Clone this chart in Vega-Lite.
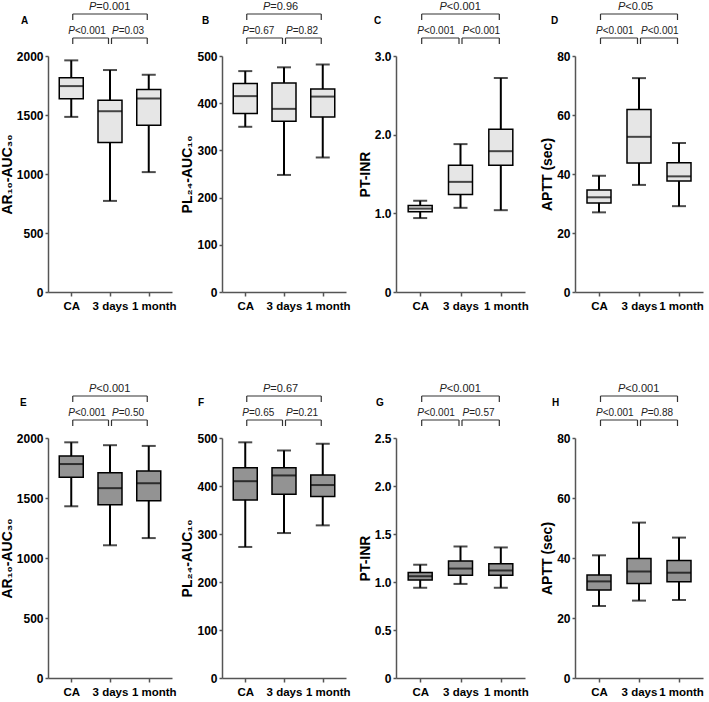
{
  "$schema": "https://vega.github.io/schema/vega-lite/v6.json",
  "padding": 0,
  "config": {
    "view": {"stroke": null},
    "font": "Liberation Sans",
    "title": {"font": "Liberation Sans", "fontSize": 10, "fontWeight": "bold", "color": "black"},
    "axis": {"grid": false, "domainColor": "#555", "domainWidth": 1.5, "tickColor": "#555", "tickWidth": 1.5, "labelFont": "Liberation Sans", "labelFontWeight": "bold", "labelFontSize": 12, "labelColor": "black", "titleFont": "Liberation Sans", "titleFontWeight": "bold", "titleFontSize": 14, "titleColor": "black", "labelOverlap": false, "labelBound": false, "labelFlush": false},
    "axisY": {"tickSize": 3, "labelPadding": 2, "titlePadding": 2},
    "axisX": {"tickSize": 4, "labelPadding": 4, "labelAngle": 0, "labelFontSize": 11.5}
  },
  "datasets": {
    "boxes": [
      {"panel": "A", "group": "CA", "min": 1484, "q1": 1637, "median": 1745, "q3": 1816, "max": 1963},
      {"panel": "A", "group": "3 days", "min": 772, "q1": 1268, "median": 1532, "q3": 1626, "max": 1881},
      {"panel": "A", "group": "1 month", "min": 1016, "q1": 1413, "median": 1640, "q3": 1716, "max": 1841},
      {"panel": "B", "group": "CA", "min": 350, "q1": 378, "median": 415, "q3": 442, "max": 468},
      {"panel": "B", "group": "3 days", "min": 248, "q1": 362, "median": 388, "q3": 443, "max": 476},
      {"panel": "B", "group": "1 month", "min": 285, "q1": 371, "median": 414, "q3": 430, "max": 482},
      {"panel": "C", "group": "CA", "min": 0.94, "q1": 1.02, "median": 1.06, "q3": 1.10, "max": 1.16},
      {"panel": "C", "group": "3 days", "min": 1.07, "q1": 1.24, "median": 1.40, "q3": 1.61, "max": 1.88},
      {"panel": "C", "group": "1 month", "min": 1.04, "q1": 1.61, "median": 1.79, "q3": 2.07, "max": 2.72},
      {"panel": "D", "group": "CA", "min": 27, "q1": 30.2, "median": 32.1, "q3": 34.6, "max": 39.4},
      {"panel": "D", "group": "3 days", "min": 36.3, "q1": 43.7, "median": 52.6, "q3": 61.9, "max": 72.5},
      {"panel": "D", "group": "1 month", "min": 29.1, "q1": 37.6, "median": 39.2, "q3": 43.8, "max": 50.5},
      {"panel": "E", "group": "CA", "min": 1431, "q1": 1673, "median": 1783, "q3": 1849, "max": 1964},
      {"panel": "E", "group": "3 days", "min": 1106, "q1": 1444, "median": 1582, "q3": 1711, "max": 1940},
      {"panel": "E", "group": "1 month", "min": 1166, "q1": 1477, "median": 1623, "q3": 1725, "max": 1934},
      {"panel": "F", "group": "CA", "min": 273, "q1": 371, "median": 410, "q3": 438, "max": 491},
      {"panel": "F", "group": "3 days", "min": 302, "q1": 383, "median": 422, "q3": 438, "max": 474},
      {"panel": "F", "group": "1 month", "min": 318, "q1": 378, "median": 402, "q3": 423, "max": 488},
      {"panel": "G", "group": "CA", "min": 0.94, "q1": 1.02, "median": 1.06, "q3": 1.10, "max": 1.18},
      {"panel": "G", "group": "3 days", "min": 0.98, "q1": 1.07, "median": 1.14, "q3": 1.22, "max": 1.37},
      {"panel": "G", "group": "1 month", "min": 0.94, "q1": 1.07, "median": 1.12, "q3": 1.19, "max": 1.36},
      {"panel": "H", "group": "CA", "min": 24, "q1": 29.3, "median": 32.2, "q3": 34.3, "max": 40.9},
      {"panel": "H", "group": "3 days", "min": 25.8, "q1": 31.5, "median": 35.5, "q3": 39.8, "max": 51.8},
      {"panel": "H", "group": "1 month", "min": 26, "q1": 32.1, "median": 35.1, "q3": 39.2, "max": 46.8}
    ],
    "brackets": [
      {"panel": "A", "from": "CA", "to": "1 month", "level": 2, "label": "=0.001"},
      {"panel": "A", "from": "CA", "to": "3 days", "level": 1, "label": "<0.001"},
      {"panel": "A", "from": "3 days", "to": "1 month", "level": 1, "label": "=0.03"},
      {"panel": "B", "from": "CA", "to": "1 month", "level": 2, "label": "=0.96"},
      {"panel": "B", "from": "CA", "to": "3 days", "level": 1, "label": "=0.67"},
      {"panel": "B", "from": "3 days", "to": "1 month", "level": 1, "label": "=0.82"},
      {"panel": "C", "from": "CA", "to": "1 month", "level": 2, "label": "<0.001"},
      {"panel": "C", "from": "CA", "to": "3 days", "level": 1, "label": "<0.001"},
      {"panel": "C", "from": "3 days", "to": "1 month", "level": 1, "label": "<0.001"},
      {"panel": "D", "from": "CA", "to": "1 month", "level": 2, "label": "<0.05"},
      {"panel": "D", "from": "CA", "to": "3 days", "level": 1, "label": "<0.001"},
      {"panel": "D", "from": "3 days", "to": "1 month", "level": 1, "label": "<0.001"},
      {"panel": "E", "from": "CA", "to": "1 month", "level": 2, "label": "<0.001"},
      {"panel": "E", "from": "CA", "to": "3 days", "level": 1, "label": "<0.001"},
      {"panel": "E", "from": "3 days", "to": "1 month", "level": 1, "label": "=0.50"},
      {"panel": "F", "from": "CA", "to": "1 month", "level": 2, "label": "=0.67"},
      {"panel": "F", "from": "CA", "to": "3 days", "level": 1, "label": "=0.65"},
      {"panel": "F", "from": "3 days", "to": "1 month", "level": 1, "label": "=0.21"},
      {"panel": "G", "from": "CA", "to": "1 month", "level": 2, "label": "<0.001"},
      {"panel": "G", "from": "CA", "to": "3 days", "level": 1, "label": "<0.001"},
      {"panel": "G", "from": "3 days", "to": "1 month", "level": 1, "label": "=0.57"},
      {"panel": "H", "from": "CA", "to": "1 month", "level": 2, "label": "<0.001"},
      {"panel": "H", "from": "CA", "to": "3 days", "level": 1, "label": "<0.001"},
      {"panel": "H", "from": "3 days", "to": "1 month", "level": 1, "label": "=0.88"}
    ]
  },
  "columns": 4,
  "align": "each",
  "bounds": "flush",
  "spacing": {"row": 146, "column": 50},
  "concat": [
    {
      "width": 124, "height": 236,
      "title": {"text": "A", "anchor": "start", "frame": "group", "dx": -27, "dy": 29},
      "resolve": {"scale": {"y": "independent"}},
      "layer": [
        {
          "data": {"name": "boxes"},
          "transform": [{"filter": "datum.panel === 'A'"}],
          "encoding": {"x": {"field": "group", "type": "nominal", "title": null, "scale": {"type": "point", "domain": ["CA", "3 days", "1 month"], "padding": 0.6}, "axis": {"labelOffset": {"condition": {"test": "datum.value === '1 month'", "value": 5}, "value": 0}}}},
          "layer": [
            {"mark": {"type": "rule", "color": "black", "strokeWidth": 2}, "encoding": {"y": {"field": "min", "type": "quantitative", "scale": {"domain": [0, 2000], "nice": false}, "axis": {"title": "AR₁₀-AUC₃₀", "values": [0, 500, 1000, 1500, 2000], "format": "d"}}, "y2": {"field": "max"}}},
            {"mark": {"type": "bar", "size": 24, "fill": "#e6e6e6", "stroke": "black", "strokeWidth": 1.5}, "encoding": {"y": {"field": "q1", "type": "quantitative"}, "y2": {"field": "q3"}}},
            {"mark": {"type": "tick", "size": 24, "thickness": 2, "color": "black"}, "encoding": {"y": {"field": "median", "type": "quantitative"}}},
            {"mark": {"type": "tick", "size": 14, "thickness": 2, "color": "black"}, "encoding": {"y": {"field": "min", "type": "quantitative"}}},
            {"mark": {"type": "tick", "size": 14, "thickness": 2, "color": "black"}, "encoding": {"y": {"field": "max", "type": "quantitative"}}}
          ]
        },
        {
          "data": {"name": "brackets"},
          "transform": [{"filter": "datum.panel === 'A'"}],
          "encoding": {
            "x": {"field": "from", "type": "nominal", "title": null, "scale": {"type": "point", "domain": ["CA", "3 days", "1 month"], "padding": 0.6}},
            "y": {"field": "level", "type": "quantitative", "scale": {"domain": [-9.583, 0.25], "nice": false, "zero": false}, "axis": null}
          },
          "layer": [
            {"mark": {"type": "rule", "color": "#333", "strokeWidth": 1.2, "xOffset": 1.5, "x2Offset": -1.5}, "encoding": {"x2": {"field": "to"}}},
            {"mark": {"type": "rule", "color": "#333", "strokeWidth": 1.2, "xOffset": 1.5, "y2Offset": 6}, "encoding": {"y2": {"field": "level"}}},
            {"mark": {"type": "rule", "color": "#333", "strokeWidth": 1.2, "xOffset": -1.5, "y2Offset": 6}, "encoding": {"x": {"field": "to", "type": "nominal", "title": null}, "y2": {"field": "level"}}},
            {"transform": [{"filter": "datum.level === 1 && datum.from === 'CA'"}], "mark": {"type": "text", "align": "left", "baseline": "bottom", "dy": -2, "dx": -3, "fontSize": 10, "fontStyle": "italic", "color": "#222"}, "encoding": {"text": {"value": "P"}}},
            {"transform": [{"filter": "datum.level === 1 && datum.from === 'CA'"}], "mark": {"type": "text", "align": "left", "baseline": "bottom", "dy": -2, "dx": 3.7, "fontSize": 10, "color": "#222"}, "encoding": {"text": {"field": "label"}}},
            {"transform": [{"filter": "datum.level === 1 && datum.from === '3 days'"}], "mark": {"type": "text", "align": "left", "baseline": "bottom", "dy": -2, "dx": 2, "fontSize": 10, "fontStyle": "italic", "color": "#222"}, "encoding": {"text": {"value": "P"}}},
            {"transform": [{"filter": "datum.level === 1 && datum.from === '3 days'"}], "mark": {"type": "text", "align": "left", "baseline": "bottom", "dy": -2, "dx": 8.7, "fontSize": 10, "color": "#222"}, "encoding": {"text": {"field": "label"}}},
            {"transform": [{"filter": "datum.level === 2"}], "mark": {"type": "text", "align": "left", "baseline": "bottom", "dy": -2, "dx": -21, "fontSize": 11, "fontStyle": "italic", "color": "#222"}, "encoding": {"x": {"datum": "3 days"}, "text": {"value": "P"}}},
            {"transform": [{"filter": "datum.level === 2"}], "mark": {"type": "text", "align": "left", "baseline": "bottom", "dy": -2, "dx": -13.7, "fontSize": 11, "color": "#222"}, "encoding": {"x": {"datum": "3 days"}, "text": {"field": "label"}}}
          ]
        }
      ]
    },
    {
      "width": 124, "height": 236,
      "title": {"text": "B", "anchor": "start", "frame": "group", "dx": -20, "dy": 29},
      "resolve": {"scale": {"y": "independent"}},
      "layer": [
        {
          "data": {"name": "boxes"},
          "transform": [{"filter": "datum.panel === 'B'"}],
          "encoding": {"x": {"field": "group", "type": "nominal", "title": null, "scale": {"type": "point", "domain": ["CA", "3 days", "1 month"], "padding": 0.6}, "axis": {"labelOffset": {"condition": {"test": "datum.value === '1 month'", "value": 5}, "value": 0}}}},
          "layer": [
            {"mark": {"type": "rule", "color": "black", "strokeWidth": 2}, "encoding": {"y": {"field": "min", "type": "quantitative", "scale": {"domain": [0, 500], "nice": false}, "axis": {"title": "PL₂₄-AUC₁₀", "values": [0, 100, 200, 300, 400, 500], "format": "d"}}, "y2": {"field": "max"}}},
            {"mark": {"type": "bar", "size": 24, "fill": "#e6e6e6", "stroke": "black", "strokeWidth": 1.5}, "encoding": {"y": {"field": "q1", "type": "quantitative"}, "y2": {"field": "q3"}}},
            {"mark": {"type": "tick", "size": 24, "thickness": 2, "color": "black"}, "encoding": {"y": {"field": "median", "type": "quantitative"}}},
            {"mark": {"type": "tick", "size": 14, "thickness": 2, "color": "black"}, "encoding": {"y": {"field": "min", "type": "quantitative"}}},
            {"mark": {"type": "tick", "size": 14, "thickness": 2, "color": "black"}, "encoding": {"y": {"field": "max", "type": "quantitative"}}}
          ]
        },
        {
          "data": {"name": "brackets"},
          "transform": [{"filter": "datum.panel === 'B'"}],
          "encoding": {
            "x": {"field": "from", "type": "nominal", "title": null, "scale": {"type": "point", "domain": ["CA", "3 days", "1 month"], "padding": 0.6}},
            "y": {"field": "level", "type": "quantitative", "scale": {"domain": [-9.583, 0.25], "nice": false, "zero": false}, "axis": null}
          },
          "layer": [
            {"mark": {"type": "rule", "color": "#333", "strokeWidth": 1.2, "xOffset": 1.5, "x2Offset": -1.5}, "encoding": {"x2": {"field": "to"}}},
            {"mark": {"type": "rule", "color": "#333", "strokeWidth": 1.2, "xOffset": 1.5, "y2Offset": 6}, "encoding": {"y2": {"field": "level"}}},
            {"mark": {"type": "rule", "color": "#333", "strokeWidth": 1.2, "xOffset": -1.5, "y2Offset": 6}, "encoding": {"x": {"field": "to", "type": "nominal", "title": null}, "y2": {"field": "level"}}},
            {"transform": [{"filter": "datum.level === 1 && datum.from === 'CA'"}], "mark": {"type": "text", "align": "left", "baseline": "bottom", "dy": -2, "dx": -3, "fontSize": 10, "fontStyle": "italic", "color": "#222"}, "encoding": {"text": {"value": "P"}}},
            {"transform": [{"filter": "datum.level === 1 && datum.from === 'CA'"}], "mark": {"type": "text", "align": "left", "baseline": "bottom", "dy": -2, "dx": 3.7, "fontSize": 10, "color": "#222"}, "encoding": {"text": {"field": "label"}}},
            {"transform": [{"filter": "datum.level === 1 && datum.from === '3 days'"}], "mark": {"type": "text", "align": "left", "baseline": "bottom", "dy": -2, "dx": 2, "fontSize": 10, "fontStyle": "italic", "color": "#222"}, "encoding": {"text": {"value": "P"}}},
            {"transform": [{"filter": "datum.level === 1 && datum.from === '3 days'"}], "mark": {"type": "text", "align": "left", "baseline": "bottom", "dy": -2, "dx": 8.7, "fontSize": 10, "color": "#222"}, "encoding": {"text": {"field": "label"}}},
            {"transform": [{"filter": "datum.level === 2"}], "mark": {"type": "text", "align": "left", "baseline": "bottom", "dy": -2, "dx": -21, "fontSize": 11, "fontStyle": "italic", "color": "#222"}, "encoding": {"x": {"datum": "3 days"}, "text": {"value": "P"}}},
            {"transform": [{"filter": "datum.level === 2"}], "mark": {"type": "text", "align": "left", "baseline": "bottom", "dy": -2, "dx": -13.7, "fontSize": 11, "color": "#222"}, "encoding": {"x": {"datum": "3 days"}, "text": {"field": "label"}}}
          ]
        }
      ]
    },
    {
      "width": 129, "height": 236,
      "title": {"text": "C", "anchor": "start", "frame": "group", "dx": -22, "dy": 29},
      "resolve": {"scale": {"y": "independent"}},
      "layer": [
        {
          "data": {"name": "boxes"},
          "transform": [{"filter": "datum.panel === 'C'"}],
          "encoding": {"x": {"field": "group", "type": "nominal", "title": null, "scale": {"type": "point", "domain": ["CA", "3 days", "1 month"], "padding": 0.6}, "axis": {"labelOffset": {"condition": {"test": "datum.value === '1 month'", "value": 5}, "value": 0}}}},
          "layer": [
            {"mark": {"type": "rule", "color": "black", "strokeWidth": 2}, "encoding": {"y": {"field": "min", "type": "quantitative", "scale": {"domain": [0, 3], "nice": false}, "axis": {"title": "PT-INR", "values": [0, 0.5, 1, 1.5, 2, 2.5, 3], "labelExpr": "datum.value === 0 ? '0' : format(datum.value, '.1f')"}}, "y2": {"field": "max"}}},
            {"mark": {"type": "bar", "size": 24, "fill": "#e6e6e6", "stroke": "black", "strokeWidth": 1.5}, "encoding": {"y": {"field": "q1", "type": "quantitative"}, "y2": {"field": "q3"}}},
            {"mark": {"type": "tick", "size": 24, "thickness": 2, "color": "black"}, "encoding": {"y": {"field": "median", "type": "quantitative"}}},
            {"mark": {"type": "tick", "size": 14, "thickness": 2, "color": "black"}, "encoding": {"y": {"field": "min", "type": "quantitative"}}},
            {"mark": {"type": "tick", "size": 14, "thickness": 2, "color": "black"}, "encoding": {"y": {"field": "max", "type": "quantitative"}}}
          ]
        },
        {
          "data": {"name": "brackets"},
          "transform": [{"filter": "datum.panel === 'C'"}],
          "encoding": {
            "x": {"field": "from", "type": "nominal", "title": null, "scale": {"type": "point", "domain": ["CA", "3 days", "1 month"], "padding": 0.6}},
            "y": {"field": "level", "type": "quantitative", "scale": {"domain": [-9.583, 0.25], "nice": false, "zero": false}, "axis": null}
          },
          "layer": [
            {"mark": {"type": "rule", "color": "#333", "strokeWidth": 1.2, "xOffset": 1.5, "x2Offset": -1.5}, "encoding": {"x2": {"field": "to"}}},
            {"mark": {"type": "rule", "color": "#333", "strokeWidth": 1.2, "xOffset": 1.5, "y2Offset": 6}, "encoding": {"y2": {"field": "level"}}},
            {"mark": {"type": "rule", "color": "#333", "strokeWidth": 1.2, "xOffset": -1.5, "y2Offset": 6}, "encoding": {"x": {"field": "to", "type": "nominal", "title": null}, "y2": {"field": "level"}}},
            {"transform": [{"filter": "datum.level === 1 && datum.from === 'CA'"}], "mark": {"type": "text", "align": "left", "baseline": "bottom", "dy": -2, "dx": -3, "fontSize": 10, "fontStyle": "italic", "color": "#222"}, "encoding": {"text": {"value": "P"}}},
            {"transform": [{"filter": "datum.level === 1 && datum.from === 'CA'"}], "mark": {"type": "text", "align": "left", "baseline": "bottom", "dy": -2, "dx": 3.7, "fontSize": 10, "color": "#222"}, "encoding": {"text": {"field": "label"}}},
            {"transform": [{"filter": "datum.level === 1 && datum.from === '3 days'"}], "mark": {"type": "text", "align": "left", "baseline": "bottom", "dy": -2, "dx": 2, "fontSize": 10, "fontStyle": "italic", "color": "#222"}, "encoding": {"text": {"value": "P"}}},
            {"transform": [{"filter": "datum.level === 1 && datum.from === '3 days'"}], "mark": {"type": "text", "align": "left", "baseline": "bottom", "dy": -2, "dx": 8.7, "fontSize": 10, "color": "#222"}, "encoding": {"text": {"field": "label"}}},
            {"transform": [{"filter": "datum.level === 2"}], "mark": {"type": "text", "align": "left", "baseline": "bottom", "dy": -2, "dx": -21, "fontSize": 11, "fontStyle": "italic", "color": "#222"}, "encoding": {"x": {"datum": "3 days"}, "text": {"value": "P"}}},
            {"transform": [{"filter": "datum.level === 2"}], "mark": {"type": "text", "align": "left", "baseline": "bottom", "dy": -2, "dx": -13.7, "fontSize": 11, "color": "#222"}, "encoding": {"x": {"datum": "3 days"}, "text": {"field": "label"}}}
          ]
        }
      ]
    },
    {
      "width": 128, "height": 236,
      "title": {"text": "D", "anchor": "start", "frame": "group", "dx": -24, "dy": 29},
      "resolve": {"scale": {"y": "independent"}},
      "layer": [
        {
          "data": {"name": "boxes"},
          "transform": [{"filter": "datum.panel === 'D'"}],
          "encoding": {"x": {"field": "group", "type": "nominal", "title": null, "scale": {"type": "point", "domain": ["CA", "3 days", "1 month"], "padding": 0.6}, "axis": {"labelOffset": {"condition": {"test": "datum.value === '1 month'", "value": 2}, "value": 0}}}},
          "layer": [
            {"mark": {"type": "rule", "color": "black", "strokeWidth": 2}, "encoding": {"y": {"field": "min", "type": "quantitative", "scale": {"domain": [0, 80], "nice": false}, "axis": {"title": "APTT (sec)", "values": [0, 20, 40, 60, 80], "format": "d"}}, "y2": {"field": "max"}}},
            {"mark": {"type": "bar", "size": 24, "fill": "#e6e6e6", "stroke": "black", "strokeWidth": 1.5}, "encoding": {"y": {"field": "q1", "type": "quantitative"}, "y2": {"field": "q3"}}},
            {"mark": {"type": "tick", "size": 24, "thickness": 2, "color": "black"}, "encoding": {"y": {"field": "median", "type": "quantitative"}}},
            {"mark": {"type": "tick", "size": 14, "thickness": 2, "color": "black"}, "encoding": {"y": {"field": "min", "type": "quantitative"}}},
            {"mark": {"type": "tick", "size": 14, "thickness": 2, "color": "black"}, "encoding": {"y": {"field": "max", "type": "quantitative"}}}
          ]
        },
        {
          "data": {"name": "brackets"},
          "transform": [{"filter": "datum.panel === 'D'"}],
          "encoding": {
            "x": {"field": "from", "type": "nominal", "title": null, "scale": {"type": "point", "domain": ["CA", "3 days", "1 month"], "padding": 0.6}},
            "y": {"field": "level", "type": "quantitative", "scale": {"domain": [-9.583, 0.25], "nice": false, "zero": false}, "axis": null}
          },
          "layer": [
            {"mark": {"type": "rule", "color": "#333", "strokeWidth": 1.2, "xOffset": 1.5, "x2Offset": -1.5}, "encoding": {"x2": {"field": "to"}}},
            {"mark": {"type": "rule", "color": "#333", "strokeWidth": 1.2, "xOffset": 1.5, "y2Offset": 6}, "encoding": {"y2": {"field": "level"}}},
            {"mark": {"type": "rule", "color": "#333", "strokeWidth": 1.2, "xOffset": -1.5, "y2Offset": 6}, "encoding": {"x": {"field": "to", "type": "nominal", "title": null}, "y2": {"field": "level"}}},
            {"transform": [{"filter": "datum.level === 1 && datum.from === 'CA'"}], "mark": {"type": "text", "align": "left", "baseline": "bottom", "dy": -2, "dx": -3, "fontSize": 10, "fontStyle": "italic", "color": "#222"}, "encoding": {"text": {"value": "P"}}},
            {"transform": [{"filter": "datum.level === 1 && datum.from === 'CA'"}], "mark": {"type": "text", "align": "left", "baseline": "bottom", "dy": -2, "dx": 3.7, "fontSize": 10, "color": "#222"}, "encoding": {"text": {"field": "label"}}},
            {"transform": [{"filter": "datum.level === 1 && datum.from === '3 days'"}], "mark": {"type": "text", "align": "left", "baseline": "bottom", "dy": -2, "dx": 2, "fontSize": 10, "fontStyle": "italic", "color": "#222"}, "encoding": {"text": {"value": "P"}}},
            {"transform": [{"filter": "datum.level === 1 && datum.from === '3 days'"}], "mark": {"type": "text", "align": "left", "baseline": "bottom", "dy": -2, "dx": 8.7, "fontSize": 10, "color": "#222"}, "encoding": {"text": {"field": "label"}}},
            {"transform": [{"filter": "datum.level === 2"}], "mark": {"type": "text", "align": "left", "baseline": "bottom", "dy": -2, "dx": -21, "fontSize": 11, "fontStyle": "italic", "color": "#222"}, "encoding": {"x": {"datum": "3 days"}, "text": {"value": "P"}}},
            {"transform": [{"filter": "datum.level === 2"}], "mark": {"type": "text", "align": "left", "baseline": "bottom", "dy": -2, "dx": -13.7, "fontSize": 11, "color": "#222"}, "encoding": {"x": {"datum": "3 days"}, "text": {"field": "label"}}}
          ]
        }
      ]
    },
    {
      "width": 124, "height": 240,
      "title": {"text": "E", "anchor": "start", "frame": "group", "dx": -28, "dy": 29},
      "resolve": {"scale": {"y": "independent"}},
      "layer": [
        {
          "data": {"name": "boxes"},
          "transform": [{"filter": "datum.panel === 'E'"}],
          "encoding": {"x": {"field": "group", "type": "nominal", "title": null, "scale": {"type": "point", "domain": ["CA", "3 days", "1 month"], "padding": 0.6}, "axis": {"labelOffset": {"condition": {"test": "datum.value === '1 month'", "value": 5}, "value": 0}}}},
          "layer": [
            {"mark": {"type": "rule", "color": "black", "strokeWidth": 2}, "encoding": {"y": {"field": "min", "type": "quantitative", "scale": {"domain": [0, 2000], "nice": false}, "axis": {"title": "AR₁₀-AUC₃₀", "values": [0, 500, 1000, 1500, 2000], "format": "d"}}, "y2": {"field": "max"}}},
            {"mark": {"type": "bar", "size": 24, "fill": "#939393", "stroke": "black", "strokeWidth": 1.5}, "encoding": {"y": {"field": "q1", "type": "quantitative"}, "y2": {"field": "q3"}}},
            {"mark": {"type": "tick", "size": 24, "thickness": 2, "color": "black"}, "encoding": {"y": {"field": "median", "type": "quantitative"}}},
            {"mark": {"type": "tick", "size": 14, "thickness": 2, "color": "black"}, "encoding": {"y": {"field": "min", "type": "quantitative"}}},
            {"mark": {"type": "tick", "size": 14, "thickness": 2, "color": "black"}, "encoding": {"y": {"field": "max", "type": "quantitative"}}}
          ]
        },
        {
          "data": {"name": "brackets"},
          "transform": [{"filter": "datum.panel === 'E'"}],
          "encoding": {
            "x": {"field": "from", "type": "nominal", "title": null, "scale": {"type": "point", "domain": ["CA", "3 days", "1 month"], "padding": 0.6}},
            "y": {"field": "level", "type": "quantitative", "scale": {"domain": [-9.75, 0.25], "nice": false, "zero": false}, "axis": null}
          },
          "layer": [
            {"mark": {"type": "rule", "color": "#333", "strokeWidth": 1.2, "xOffset": 1.5, "x2Offset": -1.5}, "encoding": {"x2": {"field": "to"}}},
            {"mark": {"type": "rule", "color": "#333", "strokeWidth": 1.2, "xOffset": 1.5, "y2Offset": 6}, "encoding": {"y2": {"field": "level"}}},
            {"mark": {"type": "rule", "color": "#333", "strokeWidth": 1.2, "xOffset": -1.5, "y2Offset": 6}, "encoding": {"x": {"field": "to", "type": "nominal", "title": null}, "y2": {"field": "level"}}},
            {"transform": [{"filter": "datum.level === 1 && datum.from === 'CA'"}], "mark": {"type": "text", "align": "left", "baseline": "bottom", "dy": -2, "dx": -3, "fontSize": 10, "fontStyle": "italic", "color": "#222"}, "encoding": {"text": {"value": "P"}}},
            {"transform": [{"filter": "datum.level === 1 && datum.from === 'CA'"}], "mark": {"type": "text", "align": "left", "baseline": "bottom", "dy": -2, "dx": 3.7, "fontSize": 10, "color": "#222"}, "encoding": {"text": {"field": "label"}}},
            {"transform": [{"filter": "datum.level === 1 && datum.from === '3 days'"}], "mark": {"type": "text", "align": "left", "baseline": "bottom", "dy": -2, "dx": 2, "fontSize": 10, "fontStyle": "italic", "color": "#222"}, "encoding": {"text": {"value": "P"}}},
            {"transform": [{"filter": "datum.level === 1 && datum.from === '3 days'"}], "mark": {"type": "text", "align": "left", "baseline": "bottom", "dy": -2, "dx": 8.7, "fontSize": 10, "color": "#222"}, "encoding": {"text": {"field": "label"}}},
            {"transform": [{"filter": "datum.level === 2"}], "mark": {"type": "text", "align": "left", "baseline": "bottom", "dy": -2, "dx": -21, "fontSize": 11, "fontStyle": "italic", "color": "#222"}, "encoding": {"x": {"datum": "3 days"}, "text": {"value": "P"}}},
            {"transform": [{"filter": "datum.level === 2"}], "mark": {"type": "text", "align": "left", "baseline": "bottom", "dy": -2, "dx": -13.7, "fontSize": 11, "color": "#222"}, "encoding": {"x": {"datum": "3 days"}, "text": {"field": "label"}}}
          ]
        }
      ]
    },
    {
      "width": 124, "height": 240,
      "title": {"text": "F", "anchor": "start", "frame": "group", "dx": -24, "dy": 29},
      "resolve": {"scale": {"y": "independent"}},
      "layer": [
        {
          "data": {"name": "boxes"},
          "transform": [{"filter": "datum.panel === 'F'"}],
          "encoding": {"x": {"field": "group", "type": "nominal", "title": null, "scale": {"type": "point", "domain": ["CA", "3 days", "1 month"], "padding": 0.6}, "axis": {"labelOffset": {"condition": {"test": "datum.value === '1 month'", "value": 5}, "value": 0}}}},
          "layer": [
            {"mark": {"type": "rule", "color": "black", "strokeWidth": 2}, "encoding": {"y": {"field": "min", "type": "quantitative", "scale": {"domain": [0, 500], "nice": false}, "axis": {"title": "PL₂₄-AUC₁₀", "values": [0, 100, 200, 300, 400, 500], "format": "d"}}, "y2": {"field": "max"}}},
            {"mark": {"type": "bar", "size": 24, "fill": "#939393", "stroke": "black", "strokeWidth": 1.5}, "encoding": {"y": {"field": "q1", "type": "quantitative"}, "y2": {"field": "q3"}}},
            {"mark": {"type": "tick", "size": 24, "thickness": 2, "color": "black"}, "encoding": {"y": {"field": "median", "type": "quantitative"}}},
            {"mark": {"type": "tick", "size": 14, "thickness": 2, "color": "black"}, "encoding": {"y": {"field": "min", "type": "quantitative"}}},
            {"mark": {"type": "tick", "size": 14, "thickness": 2, "color": "black"}, "encoding": {"y": {"field": "max", "type": "quantitative"}}}
          ]
        },
        {
          "data": {"name": "brackets"},
          "transform": [{"filter": "datum.panel === 'F'"}],
          "encoding": {
            "x": {"field": "from", "type": "nominal", "title": null, "scale": {"type": "point", "domain": ["CA", "3 days", "1 month"], "padding": 0.6}},
            "y": {"field": "level", "type": "quantitative", "scale": {"domain": [-9.75, 0.25], "nice": false, "zero": false}, "axis": null}
          },
          "layer": [
            {"mark": {"type": "rule", "color": "#333", "strokeWidth": 1.2, "xOffset": 1.5, "x2Offset": -1.5}, "encoding": {"x2": {"field": "to"}}},
            {"mark": {"type": "rule", "color": "#333", "strokeWidth": 1.2, "xOffset": 1.5, "y2Offset": 6}, "encoding": {"y2": {"field": "level"}}},
            {"mark": {"type": "rule", "color": "#333", "strokeWidth": 1.2, "xOffset": -1.5, "y2Offset": 6}, "encoding": {"x": {"field": "to", "type": "nominal", "title": null}, "y2": {"field": "level"}}},
            {"transform": [{"filter": "datum.level === 1 && datum.from === 'CA'"}], "mark": {"type": "text", "align": "left", "baseline": "bottom", "dy": -2, "dx": -3, "fontSize": 10, "fontStyle": "italic", "color": "#222"}, "encoding": {"text": {"value": "P"}}},
            {"transform": [{"filter": "datum.level === 1 && datum.from === 'CA'"}], "mark": {"type": "text", "align": "left", "baseline": "bottom", "dy": -2, "dx": 3.7, "fontSize": 10, "color": "#222"}, "encoding": {"text": {"field": "label"}}},
            {"transform": [{"filter": "datum.level === 1 && datum.from === '3 days'"}], "mark": {"type": "text", "align": "left", "baseline": "bottom", "dy": -2, "dx": 2, "fontSize": 10, "fontStyle": "italic", "color": "#222"}, "encoding": {"text": {"value": "P"}}},
            {"transform": [{"filter": "datum.level === 1 && datum.from === '3 days'"}], "mark": {"type": "text", "align": "left", "baseline": "bottom", "dy": -2, "dx": 8.7, "fontSize": 10, "color": "#222"}, "encoding": {"text": {"field": "label"}}},
            {"transform": [{"filter": "datum.level === 2"}], "mark": {"type": "text", "align": "left", "baseline": "bottom", "dy": -2, "dx": -21, "fontSize": 11, "fontStyle": "italic", "color": "#222"}, "encoding": {"x": {"datum": "3 days"}, "text": {"value": "P"}}},
            {"transform": [{"filter": "datum.level === 2"}], "mark": {"type": "text", "align": "left", "baseline": "bottom", "dy": -2, "dx": -13.7, "fontSize": 11, "color": "#222"}, "encoding": {"x": {"datum": "3 days"}, "text": {"field": "label"}}}
          ]
        }
      ]
    },
    {
      "width": 129, "height": 240,
      "title": {"text": "G", "anchor": "start", "frame": "group", "dx": -20, "dy": 29},
      "resolve": {"scale": {"y": "independent"}},
      "layer": [
        {
          "data": {"name": "boxes"},
          "transform": [{"filter": "datum.panel === 'G'"}],
          "encoding": {"x": {"field": "group", "type": "nominal", "title": null, "scale": {"type": "point", "domain": ["CA", "3 days", "1 month"], "padding": 0.6}, "axis": {"labelOffset": {"condition": {"test": "datum.value === '1 month'", "value": 5}, "value": 0}}}},
          "layer": [
            {"mark": {"type": "rule", "color": "black", "strokeWidth": 2}, "encoding": {"y": {"field": "min", "type": "quantitative", "scale": {"domain": [0, 2.5], "nice": false}, "axis": {"title": "PT-INR", "values": [0, 0.5, 1, 1.5, 2, 2.5], "labelExpr": "datum.value === 0 ? '0' : format(datum.value, '.1f')"}}, "y2": {"field": "max"}}},
            {"mark": {"type": "bar", "size": 24, "fill": "#939393", "stroke": "black", "strokeWidth": 1.5}, "encoding": {"y": {"field": "q1", "type": "quantitative"}, "y2": {"field": "q3"}}},
            {"mark": {"type": "tick", "size": 24, "thickness": 2, "color": "black"}, "encoding": {"y": {"field": "median", "type": "quantitative"}}},
            {"mark": {"type": "tick", "size": 14, "thickness": 2, "color": "black"}, "encoding": {"y": {"field": "min", "type": "quantitative"}}},
            {"mark": {"type": "tick", "size": 14, "thickness": 2, "color": "black"}, "encoding": {"y": {"field": "max", "type": "quantitative"}}}
          ]
        },
        {
          "data": {"name": "brackets"},
          "transform": [{"filter": "datum.panel === 'G'"}],
          "encoding": {
            "x": {"field": "from", "type": "nominal", "title": null, "scale": {"type": "point", "domain": ["CA", "3 days", "1 month"], "padding": 0.6}},
            "y": {"field": "level", "type": "quantitative", "scale": {"domain": [-9.75, 0.25], "nice": false, "zero": false}, "axis": null}
          },
          "layer": [
            {"mark": {"type": "rule", "color": "#333", "strokeWidth": 1.2, "xOffset": 1.5, "x2Offset": -1.5}, "encoding": {"x2": {"field": "to"}}},
            {"mark": {"type": "rule", "color": "#333", "strokeWidth": 1.2, "xOffset": 1.5, "y2Offset": 6}, "encoding": {"y2": {"field": "level"}}},
            {"mark": {"type": "rule", "color": "#333", "strokeWidth": 1.2, "xOffset": -1.5, "y2Offset": 6}, "encoding": {"x": {"field": "to", "type": "nominal", "title": null}, "y2": {"field": "level"}}},
            {"transform": [{"filter": "datum.level === 1 && datum.from === 'CA'"}], "mark": {"type": "text", "align": "left", "baseline": "bottom", "dy": -2, "dx": -3, "fontSize": 10, "fontStyle": "italic", "color": "#222"}, "encoding": {"text": {"value": "P"}}},
            {"transform": [{"filter": "datum.level === 1 && datum.from === 'CA'"}], "mark": {"type": "text", "align": "left", "baseline": "bottom", "dy": -2, "dx": 3.7, "fontSize": 10, "color": "#222"}, "encoding": {"text": {"field": "label"}}},
            {"transform": [{"filter": "datum.level === 1 && datum.from === '3 days'"}], "mark": {"type": "text", "align": "left", "baseline": "bottom", "dy": -2, "dx": 2, "fontSize": 10, "fontStyle": "italic", "color": "#222"}, "encoding": {"text": {"value": "P"}}},
            {"transform": [{"filter": "datum.level === 1 && datum.from === '3 days'"}], "mark": {"type": "text", "align": "left", "baseline": "bottom", "dy": -2, "dx": 8.7, "fontSize": 10, "color": "#222"}, "encoding": {"text": {"field": "label"}}},
            {"transform": [{"filter": "datum.level === 2"}], "mark": {"type": "text", "align": "left", "baseline": "bottom", "dy": -2, "dx": -21, "fontSize": 11, "fontStyle": "italic", "color": "#222"}, "encoding": {"x": {"datum": "3 days"}, "text": {"value": "P"}}},
            {"transform": [{"filter": "datum.level === 2"}], "mark": {"type": "text", "align": "left", "baseline": "bottom", "dy": -2, "dx": -13.7, "fontSize": 11, "color": "#222"}, "encoding": {"x": {"datum": "3 days"}, "text": {"field": "label"}}}
          ]
        }
      ]
    },
    {
      "width": 128, "height": 240,
      "title": {"text": "H", "anchor": "start", "frame": "group", "dx": -23, "dy": 29},
      "resolve": {"scale": {"y": "independent"}},
      "layer": [
        {
          "data": {"name": "boxes"},
          "transform": [{"filter": "datum.panel === 'H'"}],
          "encoding": {"x": {"field": "group", "type": "nominal", "title": null, "scale": {"type": "point", "domain": ["CA", "3 days", "1 month"], "padding": 0.6}, "axis": {"labelOffset": {"condition": {"test": "datum.value === '1 month'", "value": 2}, "value": 0}}}},
          "layer": [
            {"mark": {"type": "rule", "color": "black", "strokeWidth": 2}, "encoding": {"y": {"field": "min", "type": "quantitative", "scale": {"domain": [0, 80], "nice": false}, "axis": {"title": "APTT (sec)", "values": [0, 20, 40, 60, 80], "format": "d"}}, "y2": {"field": "max"}}},
            {"mark": {"type": "bar", "size": 24, "fill": "#939393", "stroke": "black", "strokeWidth": 1.5}, "encoding": {"y": {"field": "q1", "type": "quantitative"}, "y2": {"field": "q3"}}},
            {"mark": {"type": "tick", "size": 24, "thickness": 2, "color": "black"}, "encoding": {"y": {"field": "median", "type": "quantitative"}}},
            {"mark": {"type": "tick", "size": 14, "thickness": 2, "color": "black"}, "encoding": {"y": {"field": "min", "type": "quantitative"}}},
            {"mark": {"type": "tick", "size": 14, "thickness": 2, "color": "black"}, "encoding": {"y": {"field": "max", "type": "quantitative"}}}
          ]
        },
        {
          "data": {"name": "brackets"},
          "transform": [{"filter": "datum.panel === 'H'"}],
          "encoding": {
            "x": {"field": "from", "type": "nominal", "title": null, "scale": {"type": "point", "domain": ["CA", "3 days", "1 month"], "padding": 0.6}},
            "y": {"field": "level", "type": "quantitative", "scale": {"domain": [-9.75, 0.25], "nice": false, "zero": false}, "axis": null}
          },
          "layer": [
            {"mark": {"type": "rule", "color": "#333", "strokeWidth": 1.2, "xOffset": 1.5, "x2Offset": -1.5}, "encoding": {"x2": {"field": "to"}}},
            {"mark": {"type": "rule", "color": "#333", "strokeWidth": 1.2, "xOffset": 1.5, "y2Offset": 6}, "encoding": {"y2": {"field": "level"}}},
            {"mark": {"type": "rule", "color": "#333", "strokeWidth": 1.2, "xOffset": -1.5, "y2Offset": 6}, "encoding": {"x": {"field": "to", "type": "nominal", "title": null}, "y2": {"field": "level"}}},
            {"transform": [{"filter": "datum.level === 1 && datum.from === 'CA'"}], "mark": {"type": "text", "align": "left", "baseline": "bottom", "dy": -2, "dx": -3, "fontSize": 10, "fontStyle": "italic", "color": "#222"}, "encoding": {"text": {"value": "P"}}},
            {"transform": [{"filter": "datum.level === 1 && datum.from === 'CA'"}], "mark": {"type": "text", "align": "left", "baseline": "bottom", "dy": -2, "dx": 3.7, "fontSize": 10, "color": "#222"}, "encoding": {"text": {"field": "label"}}},
            {"transform": [{"filter": "datum.level === 1 && datum.from === '3 days'"}], "mark": {"type": "text", "align": "left", "baseline": "bottom", "dy": -2, "dx": 2, "fontSize": 10, "fontStyle": "italic", "color": "#222"}, "encoding": {"text": {"value": "P"}}},
            {"transform": [{"filter": "datum.level === 1 && datum.from === '3 days'"}], "mark": {"type": "text", "align": "left", "baseline": "bottom", "dy": -2, "dx": 8.7, "fontSize": 10, "color": "#222"}, "encoding": {"text": {"field": "label"}}},
            {"transform": [{"filter": "datum.level === 2"}], "mark": {"type": "text", "align": "left", "baseline": "bottom", "dy": -2, "dx": -21, "fontSize": 11, "fontStyle": "italic", "color": "#222"}, "encoding": {"x": {"datum": "3 days"}, "text": {"value": "P"}}},
            {"transform": [{"filter": "datum.level === 2"}], "mark": {"type": "text", "align": "left", "baseline": "bottom", "dy": -2, "dx": -13.7, "fontSize": 11, "color": "#222"}, "encoding": {"x": {"datum": "3 days"}, "text": {"field": "label"}}}
          ]
        }
      ]
    }
  ]
}
